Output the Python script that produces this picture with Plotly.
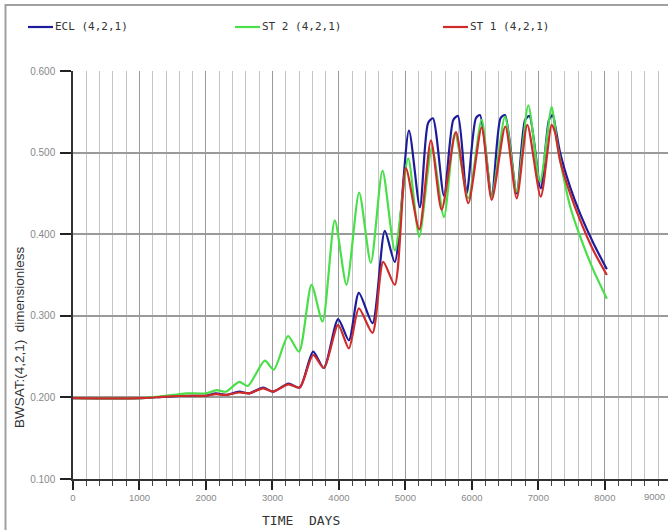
import plotly.graph_objects as go

# ---------------- data ----------------
ecl_t = [0, 1000, 1400, 1800, 2000, 2150, 2300, 2500, 2650, 2860, 3010, 3240, 3410,
         3612, 3773, 3988, 4150, 4300, 4505, 4690, 4840, 5053, 5218, 5340, 5414,
         5580, 5720, 5790, 5921, 6060, 6122, 6298, 6430, 6498, 6674, 6800, 6865,
         7036, 7160, 7216, 7255, 7327, 7477, 7629, 7828, 8030]
ecl_v = [0.199, 0.199, 0.201, 0.202, 0.202, 0.205, 0.203, 0.207, 0.205, 0.212, 0.207, 0.217, 0.212,
         0.256, 0.236, 0.296, 0.270, 0.328, 0.291, 0.404, 0.366, 0.527, 0.433, 0.536, 0.542,
         0.447, 0.540, 0.545, 0.450, 0.542, 0.546, 0.447, 0.542, 0.546, 0.450, 0.540, 0.545,
         0.456, 0.540, 0.546, 0.532, 0.500, 0.458, 0.425, 0.389, 0.357]

st2_t = [0, 1000, 1300, 1500, 1700, 2000, 2160, 2300, 2500, 2630, 2885, 3020, 3235, 3400,
         3587, 3753, 3938, 4114, 4304, 4480, 4656, 4842, 5042, 5208, 5400, 5580, 5745,
         5945, 6147, 6298, 6498, 6674, 6849, 7025, 7201, 7276, 7330, 7478, 7629, 7828, 8030]
st2_v = [0.199, 0.199, 0.201, 0.203, 0.205, 0.205, 0.209, 0.207, 0.219, 0.214, 0.245, 0.234, 0.275, 0.256,
         0.338, 0.293, 0.417, 0.338, 0.451, 0.365, 0.478, 0.380, 0.493, 0.397, 0.506, 0.421, 0.524,
         0.444, 0.540, 0.446, 0.544, 0.452, 0.558, 0.464, 0.556, 0.515, 0.490, 0.434, 0.397, 0.356, 0.321]

st1_t = [0, 1000, 1400, 1800, 2000, 2150, 2300, 2500, 2650, 2860, 3010, 3240, 3410,
         3612, 3773, 3988, 4150, 4300, 4505, 4666, 4840, 5007, 5208, 5384, 5545, 5760,
         5946, 6147, 6298, 6503, 6674, 6834, 7036, 7200, 7250, 7327, 7477, 7629, 7828, 8030]
st1_v = [0.199, 0.199, 0.201, 0.202, 0.202, 0.204, 0.203, 0.206, 0.205, 0.211, 0.207, 0.216, 0.212,
         0.252, 0.236, 0.289, 0.260, 0.309, 0.279, 0.366, 0.338, 0.481, 0.406, 0.515, 0.430, 0.525,
         0.438, 0.531, 0.442, 0.532, 0.444, 0.534, 0.446, 0.534, 0.525, 0.490, 0.450, 0.417, 0.380, 0.350]

series_names = ["ECL (4,2,1)", "ST 2 (4,2,1)", "ST 1 (4,2,1)"]
x_ticks = [0, 1000, 2000, 3000, 4000, 5000, 6000, 7000, 8000]
y_ticks = [0.1, 0.2, 0.3, 0.4, 0.5, 0.6]

# ---------------- figure ----------------
W, H = 668, 530
ML, MR, MT, MB = 73, 0, 71, 51
X_MAX = 8950
plot_w = W - ML - MR
plot_h = H - MT - MB


def px_x(p):
    return (p - ML) / plot_w


def px_y(p):
    return (H - MB - p) / plot_h


fig = go.Figure()
colors = ["#1c1c9c", "#48df48", "#d02a2a"]
for name, t, v, c in zip(series_names, [ecl_t, st2_t, st1_t], [ecl_v, st2_v, st1_v], colors):
    fig.add_trace(go.Scatter(x=t, y=v, mode="lines", name=name, showlegend=False,
                             line=dict(color=c, width=2.2, shape="spline", smoothing=0.7)))

fig.update_layout(
    width=W, height=H,
    margin=dict(l=ML, r=MR, t=MT, b=MB, autoexpand=False),
    paper_bgcolor="white", plot_bgcolor="white",
    showlegend=False,
    xaxis=dict(range=[0, X_MAX], tickvals=x_ticks, ticks="outside", ticklen=9, tickwidth=1.5,
               tickcolor="#222", showline=True, linecolor="#333", linewidth=1.5,
               showgrid=True, gridcolor="#9a9a9a", gridwidth=1, zeroline=False,
               tickfont=dict(family="Liberation Sans", size=9.5, color="#888"),
               minor=dict(dtick=200, showgrid=True, gridcolor="#c4c4c4", gridwidth=1,
                          ticks="outside", ticklen=5, tickcolor="#444", tickwidth=1)),
    yaxis=dict(range=[0.1, 0.6], tickvals=y_ticks, tickformat=".3f", ticks="outside", ticklen=11,
               tickwidth=1.5, tickcolor="#222", showline=True, linecolor="#333", linewidth=1.5,
               showgrid=True, gridcolor="#9a9a9a", gridwidth=1.5, zeroline=False,
               ticklabelstandoff=3,
               tickfont=dict(family="Liberation Sans", size=10, color="#888")),
)

# legend drawn as line samples + text across the top
legend_x = [28, 235, 443]
for name, c, lx in zip(series_names, colors, legend_x):
    fig.add_shape(type="line", xref="paper", yref="paper", x0=px_x(lx), x1=px_x(lx + 25),
                  y0=px_y(27), y1=px_y(27), line=dict(color=c, width=2.2))
    fig.add_annotation(text=name, xref="paper", yref="paper", x=px_x(lx + 25), y=px_y(27),
                       xanchor="left", yanchor="middle", showarrow=False,
                       font=dict(family="DejaVu Sans Mono", size=11, color="#333"))

# axis titles
fig.add_annotation(text="TIME  DAYS", xref="paper", yref="paper", x=px_x(301), y=px_y(520),
                   xanchor="center", yanchor="middle",
                   showarrow=False, font=dict(family="DejaVu Sans Mono", size=13, color="#333"))
fig.add_annotation(text="BWSAT:(4,2,1)  dimensionless", xref="paper", yref="paper",
                   x=px_x(19), y=px_y(337), xanchor="center", yanchor="middle",
                   textangle=-90, showarrow=False,
                   font=dict(family="Liberation Sans", size=13.5, color="#333"))
# 9000 tick label at the right edge
fig.add_annotation(text="9000", xref="paper", yref="paper", x=px_x(667), y=px_y(496),
                   xanchor="right", yanchor="middle", showarrow=False,
                   font=dict(family="Liberation Sans", size=9.5, color="#888"))

# outer frame
fig.add_shape(type="rect", xref="paper", yref="paper", x0=px_x(5.5), x1=px_x(W + 5),
              y0=px_y(H + 5), y1=px_y(5), line=dict(color="#a0a0a0", width=2))

fig.write_html("out.html", config={"displayModeBar": False},
               post_script="document.body.style.margin='0';")
